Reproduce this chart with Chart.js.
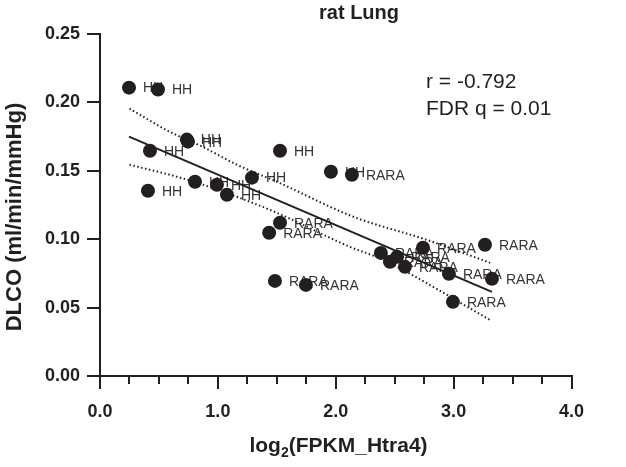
<!DOCTYPE html>
<html>
<head>
<meta charset="utf-8">
<script src="https://cdn.jsdelivr.net/npm/chart.js@4"></script>
<style>
    html, body { margin: 0; padding: 0; background: #fff; }
    #wrap { width: 626px; height: 467px; }
</style>
</head>
<body>
<div id="wrap"><canvas id="chart" width="626" height="467"></canvas></div>
<script>
// HH samples
const hhX = [0.246, 0.492, 0.424, 0.407, 0.737, 0.746, 0.806, 0.992, 1.077, 1.289, 1.527, 1.959];
const hhY = [0.2108, 0.2094, 0.1647, 0.1354, 0.1728, 0.1713, 0.1420, 0.1398, 0.1325, 0.1450, 0.1647, 0.1493];

// RARA samples
const raraX = [2.137, 1.527, 1.435, 1.484, 1.747, 2.383, 2.460, 2.520, 2.587, 2.740, 3.266, 2.960, 3.325, 2.994];
const raraY = [0.1471, 0.1120, 0.1047, 0.0695, 0.0666, 0.0900, 0.0835, 0.0871, 0.0798, 0.0937, 0.0959, 0.0747, 0.0710, 0.0542];

// regression line and 95% band
const fitX = [0.246, 3.325];
const fitY = [0.175, 0.0615];
const upperX = [0.25, 0.59, 0.87, 1.16, 1.50, 2.15, 2.77, 3.31];
const upperY = [0.1955, 0.1786, 0.1676, 0.1545, 0.1420, 0.1164, 0.0996, 0.0827];
const lowerX = [0.25, 0.74, 1.16, 1.50, 2.12, 2.40, 3.31];
const lowerY = [0.1545, 0.1435, 0.1310, 0.1193, 0.0944, 0.0849, 0.0410];

const xMajor = [0, 1, 2, 3, 4];
const xMinor = [0.25, 0.5, 0.75, 1.25, 1.5, 1.75, 2.25, 2.5, 2.75, 3.25, 3.5, 3.75];

const chartTitle = "rat Lung";
const statLines = ["r = -0.792", "FDR q = 0.01"];
const yTitle = "DLCO (ml/min/mmHg)";

const ink = "#231f20";
const fontFamily = '"Liberation Sans", Arial, sans-serif';

function toPoints(xs, ys) {
    return xs.map((x, i) => ({ x: x, y: ys[i] }));
}

const pointLabels = {
    id: "pointLabels",
    beforeDatasetsDraw(chart) {
        const ctx = chart.ctx;
        ctx.save();
        ctx.font = "14px " + fontFamily;
        ctx.fillStyle = "#333";
        ctx.textBaseline = "middle";
        chart.data.datasets.forEach((ds, i) => {
            if (!ds.pointLabel) return;
            chart.getDatasetMeta(i).data.forEach(pt => {
                ctx.fillText(ds.pointLabel, pt.x + 14, pt.y + 1);
            });
        });
        ctx.restore();
    }
};

const extras = {
    id: "extras",
    afterDraw(chart) {
        const ctx = chart.ctx;
        const xs = chart.scales.x;
        const bottom = chart.chartArea.bottom;
        ctx.save();

        // minor ticks on x
        ctx.strokeStyle = ink;
        ctx.lineWidth = 2;
        xMinor.forEach(v => {
            const px = Math.round(xs.getPixelForValue(v));
            ctx.beginPath();
            ctx.moveTo(px, bottom);
            ctx.lineTo(px, bottom + 8);
            ctx.stroke();
        });

        ctx.fillStyle = ink;

        // title
        ctx.font = "bold 20px " + fontFamily;
        ctx.textAlign = "center";
        ctx.textBaseline = "alphabetic";
        ctx.fillText(chartTitle, 359, 19);

        // stats
        ctx.font = "21px " + fontFamily;
        ctx.textAlign = "left";
        ctx.fillText(statLines[0], 426, 88);
        ctx.fillText(statLines[1], 426, 115);

        // x title with subscript
        const big = "bold 21px " + fontFamily;
        const small = "bold 14px " + fontFamily;
        ctx.font = big;
        const w1 = ctx.measureText("log").width;
        const w3 = ctx.measureText("(FPKM_Htra4)").width;
        ctx.font = small;
        const w2 = ctx.measureText("2").width;
        let x = 338.5 - (w1 + w2 + w3) / 2;
        ctx.font = big;
        ctx.fillText("log", x, 452);
        x += w1;
        ctx.font = small;
        ctx.fillText("2", x, 457);
        x += w2;
        ctx.font = big;
        ctx.fillText("(FPKM_Htra4)", x, 452);

        // y title
        ctx.translate(15, 217);
        ctx.rotate(-Math.PI / 2);
        ctx.font = "bold 22px " + fontFamily;
        ctx.textAlign = "center";
        ctx.textBaseline = "middle";
        ctx.fillText(yTitle, 0, 0);

        ctx.restore();
    }
};

new Chart(document.getElementById("chart"), {
    type: "scatter",
    data: {
        datasets: [
            {
                data: toPoints(hhX, hhY),
                pointLabel: "HH",
                backgroundColor: ink,
                borderWidth: 0,
                pointRadius: 7
            },
            {
                data: toPoints(raraX, raraY),
                pointLabel: "RARA",
                backgroundColor: ink,
                borderWidth: 0,
                pointRadius: 7
            },
            {
                type: "line",
                data: toPoints(fitX, fitY),
                borderColor: ink,
                borderWidth: 2,
                pointRadius: 0
            },
            {
                type: "line",
                data: toPoints(upperX, upperY),
                borderColor: ink,
                borderWidth: 2,
                borderDash: [1.5, 2.5],
                cubicInterpolationMode: "monotone",
                pointRadius: 0
            },
            {
                type: "line",
                data: toPoints(lowerX, lowerY),
                borderColor: ink,
                borderWidth: 2,
                borderDash: [1.5, 2.5],
                cubicInterpolationMode: "monotone",
                pointRadius: 0
            }
        ]
    },
    options: {
        responsive: false,
        devicePixelRatio: 1,
        animation: false,
        layout: { padding: { top: 34, right: 54.5, left: 0, bottom: 0 } },
        plugins: {
            legend: { display: false },
            tooltip: { enabled: false }
        },
        scales: {
            x: {
                type: "linear",
                min: 0,
                max: 4,
                afterFit(scale) { scale.height = 91; },
                afterBuildTicks(scale) { scale.ticks = xMajor.map(v => ({ value: v })); },
                ticks: {
                    padding: 12,
                    color: ink,
                    font: { family: fontFamily, size: 18, weight: "bold" },
                    callback: v => v.toFixed(1)
                },
                grid: { drawOnChartArea: false, tickLength: 13, color: ink, lineWidth: 2 },
                border: { color: ink, width: 2 }
            },
            y: {
                min: 0,
                max: 0.25,
                afterFit(scale) { scale.width = 100; },
                ticks: {
                    stepSize: 0.05,
                    padding: 7,
                    color: ink,
                    font: { family: fontFamily, size: 18, weight: "bold" },
                    callback: v => v.toFixed(2)
                },
                grid: { drawOnChartArea: false, tickLength: 13, color: ink, lineWidth: 2 },
                border: { color: ink, width: 2 }
            }
        }
    },
    plugins: [pointLabels, extras]
});
</script>
</body>
</html>
